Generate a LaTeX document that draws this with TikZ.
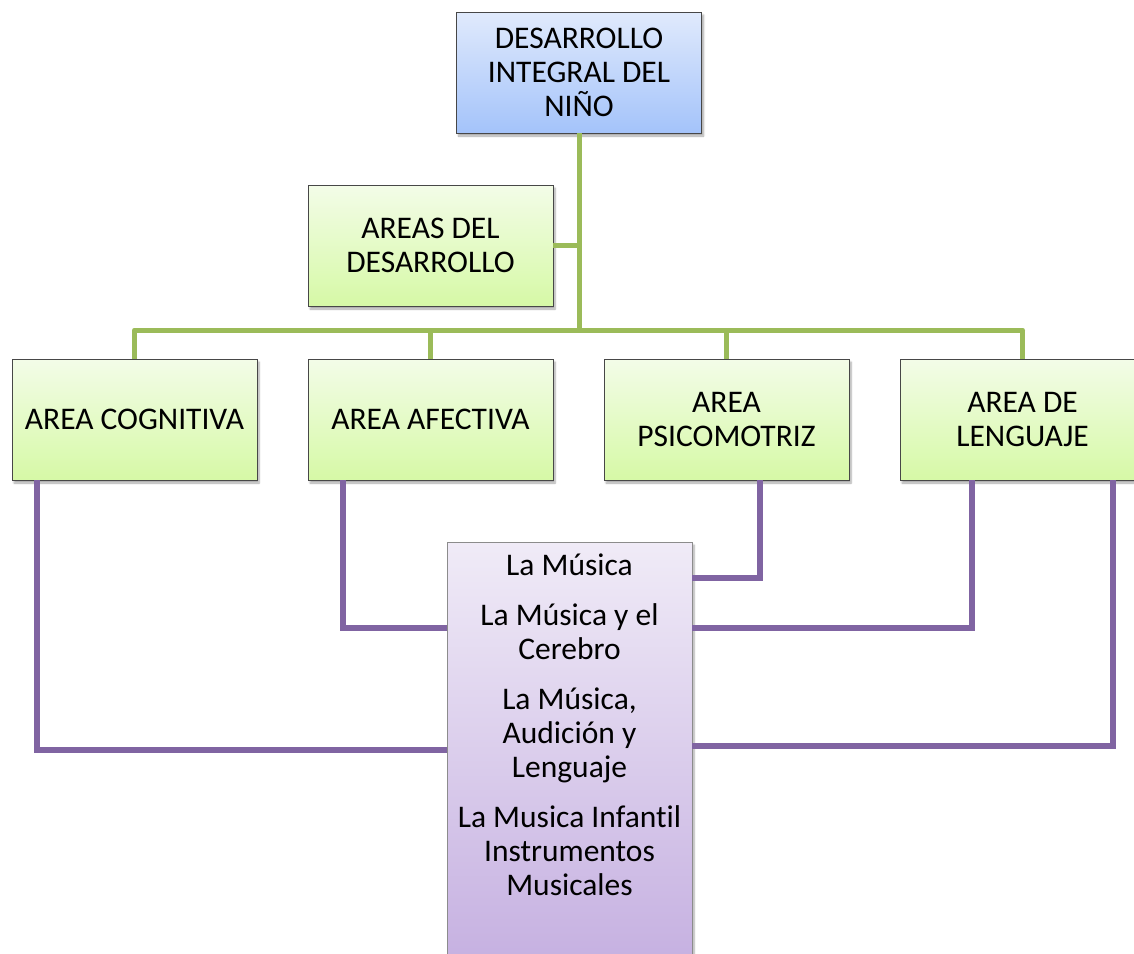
\documentclass[tikz,border=0pt]{standalone}
\usepackage{fontspec}
\setmainfont[Ligatures=NoCommon]{Carlito}
\usetikzlibrary{shadows.blur}
\definecolor{greenline}{HTML}{9BBB59}
\definecolor{purpleline}{HTML}{8064A2}
\definecolor{greentop}{HTML}{F3FCE8}
\definecolor{greenbot}{HTML}{D6F9A6}
\definecolor{bluetop}{HTML}{E0EAFC}
\definecolor{bluebot}{HTML}{A4C3FA}
\definecolor{purptop}{HTML}{F0EBF7}
\definecolor{purpbot}{HTML}{C4AEE0}
\begin{document}
\begin{tikzpicture}[x=1pt,y=-1pt,
  box/.style={draw=black!72, line width=0.8pt, minimum width=245pt, minimum height=121pt,
    inner sep=0pt, align=center, font=\fontsize{31.5}{34}\selectfont, shading=axis,
    blur shadow={shadow xshift=2pt, shadow yshift=-3pt, shadow blur steps=6, shadow opacity=35}},
  greenbox/.style={box, top color=greentop, bottom color=greenbot},
  bluebox/.style={box, top color=bluetop, bottom color=bluebot},
  purpbox/.style={box, top color=purptop, bottom color=purpbot, minimum height=438pt, draw=black!45},
  gline/.style={draw=greenline, line width=5pt},
  pline/.style={draw=purpleline, line width=6pt},
]
\useasboundingbox (0,0) rectangle (1134,953);
\clip (0,0) rectangle (1134,953);

\node[bluebox] (top) at (579,72.5) {DESARROLLO\\INTEGRAL DEL\\NIÑO};
\node[greenbox] (areas) at (430.5,245.5) {AREAS DEL\\DESARROLLO};
\node[greenbox] (cog) at (134.5,419.5) {AREA COGNITIVA};
\node[greenbox] (afe) at (430.5,419.5) {AREA AFECTIVA};
\node[greenbox] (psi) at (726.5,419.5) {AREA\\PSICOMOTRIZ};
\node[greenbox] (len) at (1022.5,419.5) {AREA DE\\LENGUAJE};

\coordinate (bar) at (579,330);
\draw[gline] (top.south) -- (bar);
\draw[gline] (areas.east) -- (areas.east -| top.south);
\draw[gline, line cap=round] (bar -| cog.north) -- (bar -| len.north);
\draw[gline] (bar -| cog.north) -- (cog.north);
\draw[gline] (bar -| afe.north) -- (afe.north);
\draw[gline] (bar -| psi.north) -- (psi.north);
\draw[gline] (bar -| len.north) -- (len.north);

\node[purpbox] (music) at (569.5,761) {};
\node[anchor=north, inner sep=0pt, align=center, font=\fontsize{31.5}{34}\selectfont] (musictext) at (569.5,554)
  {La Música\\[16pt]La Música y el\\Cerebro\\[16pt]La Música,\\Audición y\\Lenguaje\\[16pt]La Musica Infantil\\Instrumentos\\Musicales};

\draw[pline] ([xshift=25pt]cog.south west) |- (music.west |- 0,750);
\draw[pline] ([xshift=35pt]afe.south west) |- (music.west |- 0,628);
\draw[pline] ([xshift=156pt]psi.south west) |- (music.east |- 0,578);
\draw[pline] ([xshift=72pt]len.south west) |- (music.east |- 0,628);
\draw[pline] ([xshift=213pt]len.south west) |- (music.east |- 0,746);
\end{tikzpicture}
\end{document}
